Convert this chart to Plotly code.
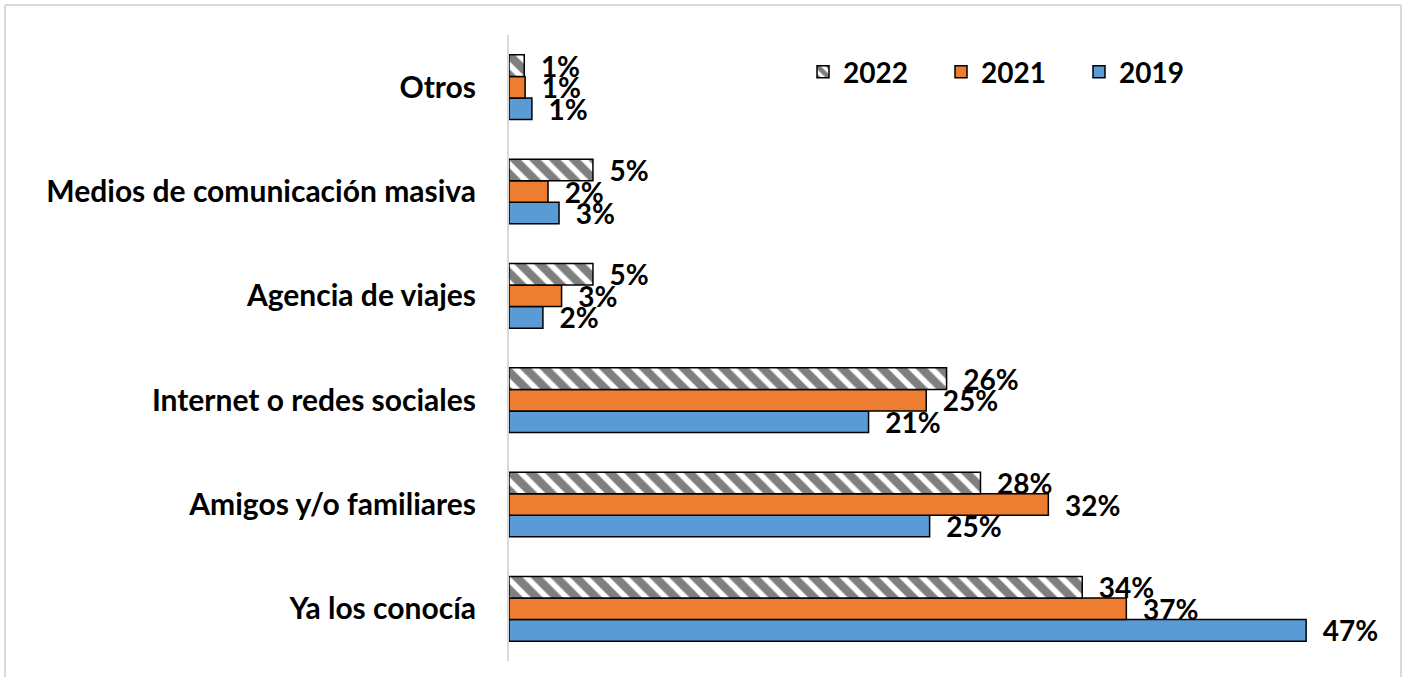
import plotly.graph_objects as go

categories = ["Ya los conocía", "Amigos y/o familiares", "Internet o redes sociales",
              "Agencia de viajes", "Medios de comunicación masiva", "Otros"]
v2019 = [47.0, 24.8, 21.2, 2.0, 2.95, 1.35]
v2021 = [36.4, 31.8, 24.6, 3.1, 2.3, 0.95]
v2022 = [33.8, 27.8, 25.8, 4.95, 4.95, 0.9]
t2019 = ["47%", "25%", "21%", "2%", "3%", "1%"]
t2021 = ["37%", "32%", "25%", "3%", "2%", "1%"]
t2022 = ["34%", "28%", "26%", "5%", "5%", "1%"]

FONT = "Lato"
fs_tick = 30
fs_lab = 28
fs_leg = 28

fig = go.Figure()
common = dict(orientation="h", textposition="outside", cliponaxis=False,
              constraintext="none", texttemplate="\u00a0\u00a0%{text}",
              textfont=dict(family=FONT, size=fs_lab, color="black", weight="bold"))
fig.add_trace(go.Bar(name="2019", y=categories, x=v2019, text=t2019,
                     marker=dict(color="#5B9BD5", line=dict(color="black", width=1.5)), **common))
fig.add_trace(go.Bar(name="2021", y=categories, x=v2021, text=t2021,
                     marker=dict(color="#ED7D31", line=dict(color="black", width=1.5)), **common))
fig.add_trace(go.Bar(name="2022", y=categories, x=v2022, text=t2022,
                     marker=dict(color="white", line=dict(color="black", width=1.5),
                                 pattern=dict(shape="\\", fgcolor="black", bgcolor="white",
                                              size=14, solidity=0.6)), **common))

L, R, T, B = 509, 49, 35, 16
W, H = 1406, 677
pw, ph = W - L - R, H - T - B

def px(x):
    return (x - L) / pw

def py(y):
    return (H - B - y) / ph

fig.update_layout(
    width=W, height=H,
    margin=dict(l=L, r=R, t=T, b=B),
    barmode="group", bargap=0.38, bargroupgap=0,
    plot_bgcolor="white", paper_bgcolor="white",
    font=dict(family=FONT, size=fs_tick, color="black", weight="bold"),
    xaxis=dict(range=[0, 50], visible=False, showgrid=False, zeroline=False),
    yaxis=dict(showgrid=False, zeroline=False, showline=True, linecolor="#d9d9d9",
               linewidth=2, ticks="", ticklabelstandoff=25, automargin=False,
               tickfont=dict(family=FONT, size=fs_tick, color="black", weight="bold")),
    legend=dict(orientation="h", traceorder="reversed", x=px(803), y=py(47),
                xanchor="left", yanchor="top", bgcolor="rgba(0,0,0,0)",
                font=dict(family=FONT, size=fs_leg, color="black", weight="bold"),
                entrywidth=93, entrywidthmode="pixels"),
    showlegend=True,
    shapes=[
        dict(type="line", xref="paper", yref="paper", x0=px(5), x1=px(5), y0=py(5), y1=py(700),
             line=dict(color="#d9d9d9", width=2)),
        dict(type="line", xref="paper", yref="paper", x0=px(5), x1=px(1401), y0=py(5), y1=py(5),
             line=dict(color="#d9d9d9", width=2)),
        dict(type="line", xref="paper", yref="paper", x0=px(1401), x1=px(1401), y0=py(5), y1=py(700),
             line=dict(color="#d9d9d9", width=2)),
    ],
)

fig.write_html("out.html", config={"displayModeBar": False},
               post_script="document.body.style.margin='0';document.body.style.overflow='hidden';")
